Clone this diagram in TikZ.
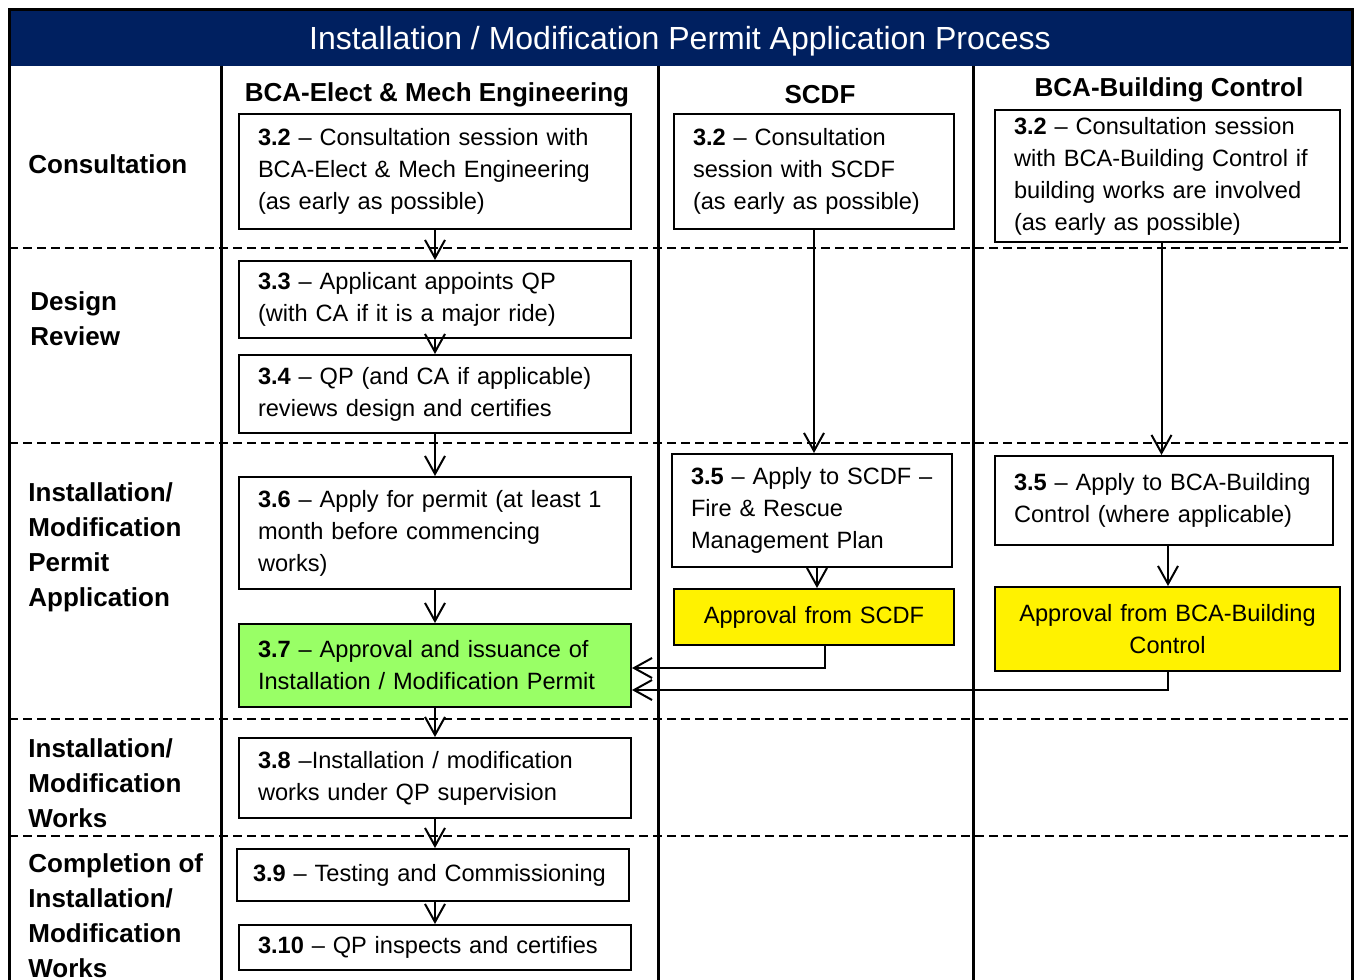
\documentclass[tikz,border=0pt]{standalone}
\usepackage{fontspec}
\setmainfont{Liberation Sans}
\usetikzlibrary{arrows.meta}
\definecolor{navyblue}{RGB}{0,32,96}
\definecolor{okgreen}{RGB}{153,255,102}

\begin{document}
\begin{tikzpicture} [x = 0.5pt, y = -0.5pt]
        %style
        \tikzset{stepbox/.style = {shape=rectangle, draw, line width=1pt, fill=white, align=left, inner xsep=9.5pt, inner ysep=0pt, font=\fontsize{11.8}{16}\selectfont}}
        \tikzset{okbox/.style = {stepbox, fill=yellow, align=center}}
        \tikzset{lanelabel/.style = {anchor=west, align=left, inner sep=0pt, font=\fontsize{13}{17.5}\selectfont\bfseries}}
        \tikzset{lanehead/.style = {inner sep=0pt, font=\fontsize{13}{16}\selectfont\bfseries}}
        \tikzset{arr/.style = {line width=1pt, -{Straight Barb[length=9pt, width=10pt]}}}
        \tikzset{lane/.style = {line width=1.5pt}}
        \tikzset{split/.style = {line width=1pt, dash pattern=on 4.5pt off 2.5pt}}
        \useasboundingbox (0,0) rectangle (1356,980);
        \fill[navyblue] (9,9) rectangle (1352,66);
        \foreach \y in {248,443,719,836} \draw[split] (9,\y) -- (1352,\y);
        \foreach \x in {221,658,973} \draw[lane] (\x,66) -- (\x,995);
        \draw[lane] (9,9) rectangle (1352,995);
        \node[text=white, font=\fontsize{16}{19}\selectfont] (title) at (680,41) {Installation / Modification Permit Application Process};
        \node[lanehead] (hbme)  at (437,95) {BCA-Elect \& Mech Engineering};
        \node[lanehead] (hscdf) at (820,95) {SCDF};
        \node[lanehead] (hbc)   at (1169,90) {BCA-Building Control};
        \node[lanelabel] (lcons)  at (28,164) {Consultation};
        \node[lanelabel] (ldes)   at (30,319) {Design\\Review};
        \node[lanelabel] (lperm)  at (28,547) {Installation/\\Modification\\Permit\\Application};
        \node[lanelabel] (lworks) at (28,783) {Installation/\\Modification\\Works};
        \node[lanelabel] (lcomp)  at (28,916) {Completion of\\Installation/\\Modification\\Works};
        \node[stepbox, text width=177pt, minimum height=57.5pt] (c1) at (435,171.5) {\textbf{3.2} -- Consultation session with\\BCA-Elect \& Mech Engineering\\(as early as possible)};
        \node[stepbox, text width=177pt, minimum height=38.5pt] (d1) at (435,299.5) {\textbf{3.3} -- Applicant appoints QP\\(with CA if it is a major ride)};
        \node[stepbox, text width=177pt, minimum height=39pt]   (d2) at (435,394) {\textbf{3.4} -- QP (and CA if applicable)\\reviews design and certifies};
        \node[stepbox, text width=177pt, minimum height=56pt]   (p1) at (435,533) {\textbf{3.6} -- Apply for permit (at least 1\\month before commencing\\works)};
        \node[stepbox, fill=okgreen, text width=177pt, minimum height=41.5pt] (p2) at (435,665.5) {\textbf{3.7} -- Approval and issuance of\\Installation / Modification Permit};
        \node[stepbox, text width=177pt, minimum height=40pt]   (w1) at (435,778) {\textbf{3.8} --Installation / modification\\works under QP supervision};
        \node[stepbox, inner xsep=8pt, text width=180pt, minimum height=26pt] (t1) at (433,875) {\textbf{3.9} -- Testing and Commissioning};
        \node[stepbox, text width=177pt, minimum height=22.5pt] (t2) at (435,947.5) {\textbf{3.10} -- QP inspects and certifies};
        \node[stepbox, text width=121pt, minimum height=57.5pt] (s1) at (814,171.5) {\textbf{3.2} -- Consultation\\session with SCDF\\(as early as possible)};
        \node[stepbox, text width=121pt, minimum height=56.5pt] (s2) at (812,510.5) {\mbox{\textbf{3.5} -- Apply to SCDF --}\\Fire \& Rescue\\Management Plan};
        \node[okbox, text width=121pt, minimum height=28pt]     (s3) at (814,617) {Approval from SCDF};
        \node[stepbox, text width=153.5pt, minimum height=66pt]   (b1) at (1167.5,176) {\textbf{3.2} -- Consultation session\\with BCA-Building Control if\\building works are involved\\(as early as possible)};
        \node[stepbox, text width=150pt, minimum height=44.5pt]   (b2) at (1164,500.5) {\mbox{\textbf{3.5} -- Apply to BCA-Building}\\Control (where applicable)};
        \node[okbox, text width=153.5pt, minimum height=42pt]     (b3) at (1167.5,629) {Approval from BCA-Building\\Control};
        \draw[arr] (c1) -- (d1);
        \draw[arr] (d1) -- (d2);
        \draw[arr] (d2) -- (p1);
        \draw[arr] (p1) -- (p2);
        \draw[arr] (p2) -- (w1);
        \draw[arr] (w1) -- (t1.north -| w1);
        \draw[arr] (t1.south -| t2) -- (t2);
        \draw[arr] (s1) -- (s1 |- s2.north);
        \draw[arr] ([xshift=2.5pt]s2.south) -- ([xshift=2.5pt]s2.south |- s3.north);
        \draw[arr] ([xshift=-3pt]b1.south) -- ([xshift=-3pt]b1.south |- b2.north);
        \draw[arr] ([xshift=2pt]b2.south) -- ([xshift=2pt]b2.south |- b3.north);
        \draw[arr] ([xshift=5.5pt]s3.south) |- ([yshift=-1.25pt]p2.east);
        \draw[arr] (b3.south) |- ([yshift=-12.25pt]p2.east);
\end{tikzpicture}
\end{document}
